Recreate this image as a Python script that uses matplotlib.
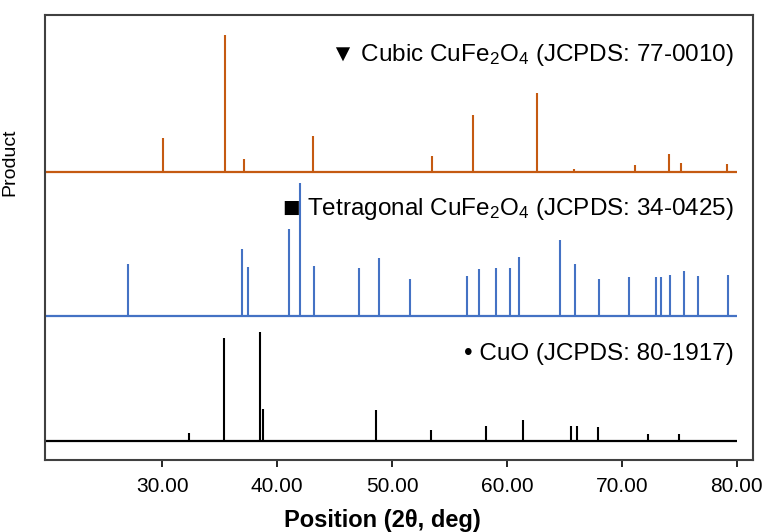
import matplotlib
matplotlib.use('Agg')
import matplotlib.pyplot as plt

plt.rcParams['font.family'] = ['Liberation Sans', 'DejaVu Sans']
plt.rcParams['mathtext.default'] = 'regular'

# reference patterns (2theta, relative intensity)
cubic_pos = [30.1, 35.5, 37.1, 43.1, 47.2, 53.5, 57.0, 62.6, 65.8, 71.1, 74.1, 75.1, 79.1]
cubic_int = [34, 137, 13, 36, 1, 16, 57, 79, 3, 7, 18, 9, 8]

tetra_pos = [27.0, 36.9, 37.5, 41.0, 42.0, 43.2, 47.1, 48.9, 51.6, 56.5, 57.6, 59.0,
             60.3, 61.0, 64.6, 65.9, 68.0, 70.6, 73.0, 73.4, 74.2, 75.4, 76.6, 79.2]
tetra_int = [52, 67, 49, 87, 133, 50, 48, 58, 37, 40, 47, 48,
             48, 59, 76, 52, 37, 39, 39, 39, 41, 45, 40, 41]

cuo_pos = [24.6, 29.7, 32.3, 35.4, 38.5, 38.8, 46.0, 48.6, 51.0, 53.4, 56.6, 58.2,
           61.4, 65.6, 66.1, 67.9, 68.9, 72.3, 75.0]
cuo_int = [1, 1, 8, 103, 109, 32, 1, 31, 1, 11, 1, 15,
           21, 15, 15, 14, 1, 7, 7]

orange = '#C55A11'
blue = '#4472C4'

fig = plt.figure(figsize=(7.66, 5.32), dpi=100)
ax = fig.add_axes([45/766, 72/532, 708/766, 445/532])

# stacked patterns with offsets
offsets = [288, 144, 19]
patterns = [(cubic_pos, cubic_int, orange), (tetra_pos, tetra_int, blue), (cuo_pos, cuo_int, 'black')]
for off, (pos, inten, col) in zip(offsets, patterns):
    ax.hlines(off, 19.8, 80, color=col, lw=1.6)
    ax.vlines(pos, off, [off + v for v in inten], color=col, lw=1.5)

fs = 17.5
ax.text(79.7, 405, '\u25BC Cubic CuFe$_2$O$_4$ (JCPDS: 77-0010)', ha='right', va='center', fontsize=fs)
ax.text(41.95, 251, '\u25A0', ha='right', va='center', fontsize=21)
ax.text(79.7, 251, 'Tetragonal CuFe$_2$O$_4$ (JCPDS: 34-0425)', ha='right', va='center', fontsize=fs)
ax.text(79.7, 106, '\u2022 CuO (JCPDS: 80-1917)', ha='right', va='center', fontsize=fs)

ax.set_xlim(19.8, 81.4)
ax.set_ylim(0, 445)
ax.set_yticks([])
ax.set_xticks([30, 40, 50, 60, 70, 80])
ax.set_xticklabels(['30.00', '40.00', '50.00', '60.00', '70.00', '80.00'], fontsize=15)
ax.tick_params(axis='x', direction='out', length=5, width=1.2, pad=7)
for s in ax.spines.values():
    s.set_linewidth(1.5)
    s.set_color('#404040')

ax.set_ylabel('Product', fontsize=14)
ax.yaxis.set_label_coords(-0.037, 0.67)
ax.set_xlabel('Position (2\u03b8, deg)', fontsize=17, fontweight='bold')
ax.xaxis.set_label_coords(0.476, -0.11)

plt.savefig('out.png', dpi=100)
